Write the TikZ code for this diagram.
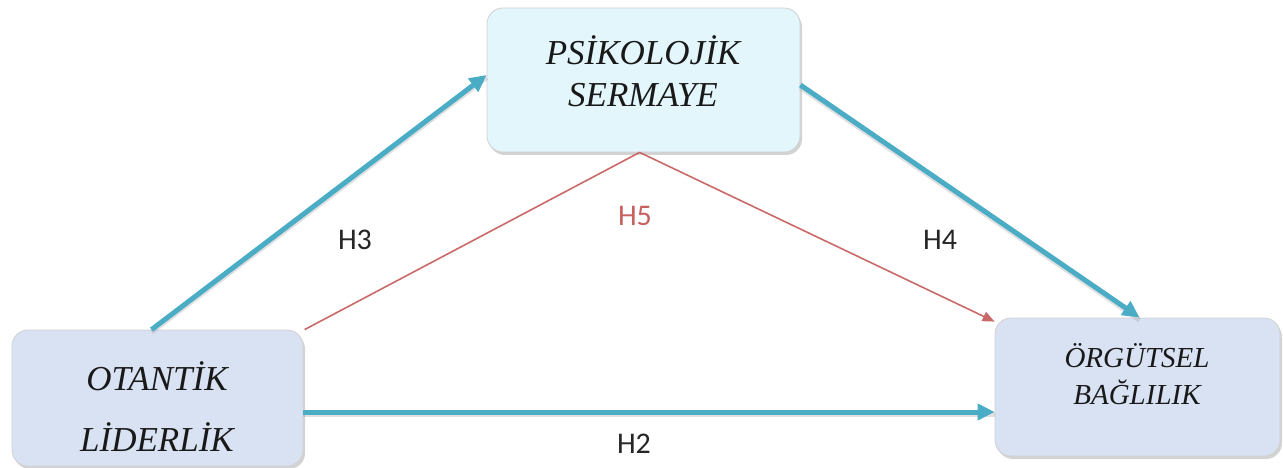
\documentclass[tikz,border=0pt]{standalone}
\usepackage{fontspec}
\setmainfont{Liberation Serif}
\newfontfamily\labfont{Carlito}
\usetikzlibrary{arrows.meta,shadows,calc}
\definecolor{teal1}{HTML}{4BACC6}
\definecolor{red1}{HTML}{C0504D}
\definecolor{cyanfill}{HTML}{E3F6FB}
\definecolor{bluefill}{HTML}{D9E2F3}
\tikzset{
  box/.style={draw=black!18, line width=0.8pt, rounded corners=16pt, inner sep=0pt,
    drop shadow={opacity=0.35, shadow xshift=2pt, shadow yshift=-3pt}},
  boxtext/.style={font=\itshape\fontsize{35}{40}\selectfont, inner sep=0pt, text=black!90},
  smalltext/.style={font=\itshape\fontsize{29}{34}\selectfont, inner sep=0pt, text=black!90},
  hyp/.style={font=\labfont\fontsize{30}{34}\selectfont, inner sep=0pt, text=black!85},
  tealarrow/.style={draw=teal1, line width=5pt, -{Triangle[length=17pt,width=16pt]},
    preaction={draw=black!35, opacity=0.35, line width=5pt, transform canvas={yshift=-2.5pt}, -}},
  redline/.style={draw=red1!85, line width=1.6pt}
}
\begin{document}
\begin{tikzpicture}[x=1pt,y=-1pt]
\useasboundingbox (0,0) rectangle (1283,468);
% boxes
\node[box, fill=cyanfill, minimum width=313pt, minimum height=144pt] (ps) at (643.5,80) {};
\node[box, fill=bluefill, minimum width=291pt, minimum height=136pt] (ol) at (157.5,398) {};
\node[box, fill=bluefill, minimum width=285pt, minimum height=138pt] (ob) at (1137.5,387) {};
% texts
\node[boxtext] (ps1) at (643,50) {PSİKOLOJİK};
\node[boxtext] (ps2) at (643,95) {SERMAYE};
\node[boxtext] (ol1) at (157,376) {OTANTİK};
\node[boxtext] (ol2) at (157,437) {LİDERLİK};
\node[smalltext] (ob1) at (1137,356) {ÖRGÜTSEL};
\node[smalltext] (ob2) at (1137,392) {BAĞLILIK};
% anchors
\coordinate (h3s) at ([xshift=140pt]ol.north west);
\coordinate (h3e) at ([yshift=5pt]ps.west);
\coordinate (h4s) at ([yshift=-5pt]ps.east);
\coordinate (h4e) at ([xshift=145pt]ob.north west);
\coordinate (h2s) at ([yshift=-14pt]ol.east);
\coordinate (h2e) at ([yshift=-25pt]ob.west);
\coordinate (r1) at ([xshift=293pt]ol.north west);
\coordinate (r2) at ([xshift=153pt]ps.south west);
\coordinate (r3) at ([yshift=-4pt]ob.north west);
% connectors
\draw[redline] (r1) -- (r2);
\draw[redline, -{Triangle[length=12pt,width=10pt]}] (r2) -- (r3);
\draw[tealarrow] (h3s) -- (h3e);
\draw[tealarrow] (h4s) -- (h4e);
\draw[tealarrow] (h2s) -- (h2e);
% labels
\node[hyp] (H3) at (355,240) {H3};
\node[hyp, text=red1!90] (H5) at (635,216) {H5};
\node[hyp] (H4) at (940,240) {H4};
\node[hyp] (H2) at (634,444) {H2};
\end{tikzpicture}
\end{document}
